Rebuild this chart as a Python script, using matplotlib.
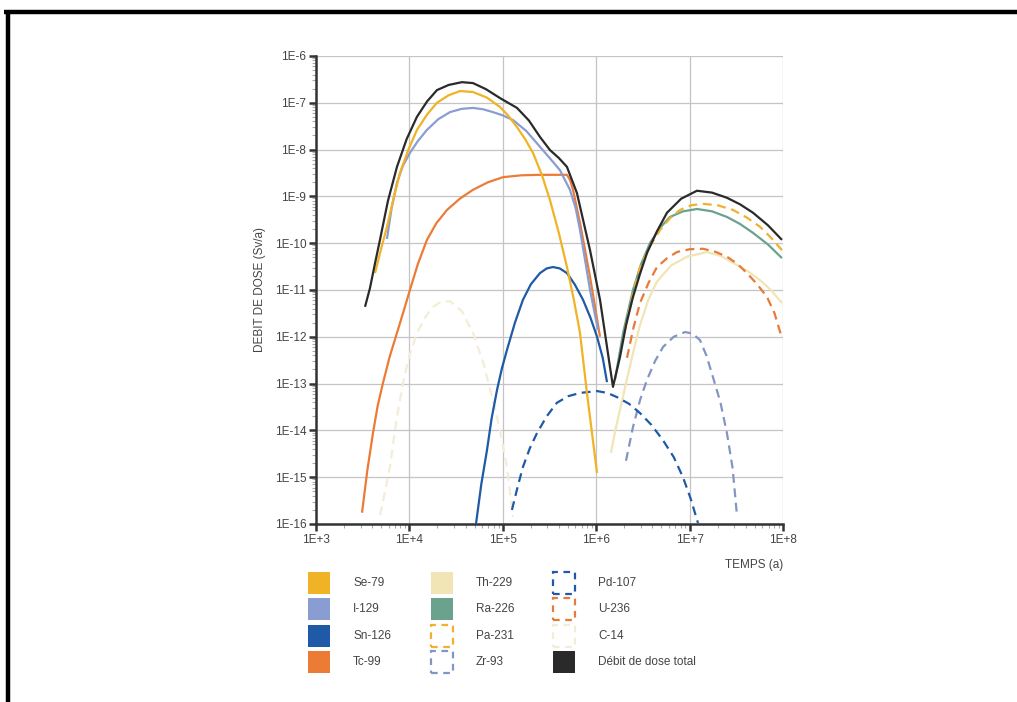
import matplotlib
matplotlib.use("Agg")
import matplotlib.pyplot as plt
from matplotlib.patches import Rectangle
from matplotlib.lines import Line2D
from matplotlib.ticker import LogLocator, NullFormatter, FixedLocator

plt.rcParams["font.family"] = ["Liberation Sans", "DejaVu Sans"]

# courbes : log10(temps en années), log10(débit de dose en Sv/a)
se79_x = [3.632, 3.70, 3.760, 3.83, 3.899, 3.99, 4.081, 4.19, 4.295, 4.42, 4.542, 4.681, 4.83, 4.970,
          5.06, 5.152, 5.24, 5.323, 5.42, 5.505, 5.60, 5.687, 5.76, 5.827, 5.901, 6.009]
se79_y = [-10.64, -10.10, -9.65, -9.05, -8.50, -8.00, -7.58, -7.25, -7.00, -6.84, -6.75, -6.77, -6.89, -7.09,
          -7.28, -7.52, -7.78, -8.07, -8.55, -9.08, -9.78, -10.51, -11.20, -11.92, -13.20, -14.91]

i129_x = [3.760, 3.81, 3.867, 3.93, 4.006, 4.09, 4.188, 4.31, 4.435, 4.56, 4.681, 4.79, 4.895, 5.00,
          5.109, 5.25, 5.398, 5.51, 5.612, 5.719, 5.78, 5.827, 5.88, 5.934, 6.019]
i129_y = [-9.91, -9.25, -8.71, -8.35, -8.07, -7.82, -7.58, -7.35, -7.20, -7.13, -7.11, -7.14, -7.20, -7.27,
          -7.37, -7.60, -7.94, -8.20, -8.44, -8.86, -9.25, -9.72, -10.35, -11.00, -11.85]

sn126_x = [4.713, 4.77, 4.831, 4.88, 4.938, 4.99, 5.045, 5.13, 5.216, 5.30, 5.398, 5.47, 5.537, 5.61,
           5.687, 5.77, 5.859, 5.94, 6.009, 6.07, 6.116]
sn126_y = [-16.0, -15.15, -14.42, -13.75, -13.14, -12.68, -12.28, -11.70, -11.21, -10.88, -10.64, -10.54, -10.51, -10.54,
           -10.64, -10.88, -11.21, -11.60, -12.00, -12.45, -12.97]

tc99_x = [3.493, 3.55, 3.610, 3.66, 3.717, 3.79, 3.867, 3.94, 4.006, 4.09, 4.188, 4.29, 4.403, 4.54,
          4.681, 4.84, 5.002, 5.20, 5.398, 5.687, 5.72, 5.752, 5.827, 5.934, 6.041]
tc99_y = [-15.76, -14.85, -14.06, -13.48, -12.99, -12.42, -11.92, -11.44, -11.00, -10.45, -9.93, -9.57, -9.29, -9.05,
          -8.86, -8.70, -8.59, -8.55, -8.54, -8.54, -8.65, -8.86, -9.57, -10.72, -12.00]

th229_x = [6.158, 6.21, 6.255, 6.33, 6.40, 6.469, 6.56, 6.651, 6.80, 6.972, 7.186, 7.33, 7.465, 7.61,
           7.754, 7.87, 7.989]
th229_y = [-14.48, -13.95, -13.56, -12.90, -12.30, -11.75, -11.20, -10.82, -10.48, -10.29, -10.19, -10.27, -10.42, -10.58,
           -10.79, -11.00, -11.28]

ra226_x = [6.201, 6.29, 6.394, 6.48, 6.576, 6.68, 6.790, 6.93, 7.079, 7.24, 7.400, 7.54, 7.679, 7.84, 7.989]
ra226_y = [-12.92, -11.90, -11.00, -10.45, -10.00, -9.68, -9.44, -9.32, -9.27, -9.32, -9.44, -9.59, -9.78, -10.03, -10.32]

pa231_x = [6.308, 6.39, 6.469, 6.58, 6.683, 6.79, 6.897, 7.02, 7.143, 7.30, 7.465, 7.61, 7.754, 7.87, 7.989]
pa231_y = [-11.85, -11.10, -10.51, -10.05, -9.72, -9.47, -9.29, -9.19, -9.16, -9.19, -9.29, -9.45, -9.65, -9.88, -10.15]

zr93_x = [6.319, 6.394, 6.47, 6.544, 6.63, 6.715, 6.83, 6.951, 7.03, 7.111, 7.18, 7.250, 7.33, 7.400, 7.46, 7.507]
zr93_y = [-14.65, -13.93, -13.35, -12.92, -12.52, -12.22, -12.00, -11.90, -11.93, -12.07, -12.40, -12.86, -13.40, -14.06,
          -14.80, -15.81]

pd107_x = [5.098, 5.16, 5.216, 5.29, 5.366, 5.47, 5.580, 5.70, 5.827, 6.009, 6.12, 6.223, 6.35, 6.469,
           6.59, 6.715, 6.83, 6.929, 7.01, 7.090]
pd107_y = [-15.70, -15.20, -14.78, -14.38, -14.06, -13.70, -13.41, -13.27, -13.20, -13.16, -13.20, -13.29, -13.43, -13.63,
           -13.88, -14.21, -14.57, -15.00, -15.45, -15.98]

u236_x = [6.330, 6.40, 6.469, 6.56, 6.651, 6.76, 6.865, 7.00, 7.143, 7.27, 7.400, 7.51, 7.614, 7.72, 7.829, 7.91, 7.989]
u236_y = [-12.45, -11.80, -11.28, -10.85, -10.51, -10.32, -10.19, -10.13, -10.12, -10.18, -10.29, -10.44, -10.64, -10.87,
          -11.15, -11.50, -12.03]

c14_x = [3.685, 3.74, 3.792, 3.86, 3.931, 4.00, 4.081, 4.17, 4.253, 4.34, 4.435, 4.56, 4.681, 4.79,
         4.895, 4.97, 5.045, 5.109]
c14_y = [-15.81, -15.30, -14.78, -13.80, -12.99, -12.40, -11.92, -11.58, -11.36, -11.25, -11.24, -11.45, -11.92, -12.55,
         -13.35, -14.00, -14.78, -15.85]

total_x = [3.525, 3.578, 3.63, 3.685, 3.77, 3.867, 3.97, 4.081, 4.19, 4.295, 4.42, 4.563, 4.681, 4.82,
           4.970, 5.152, 5.28, 5.398, 5.505, 5.60, 5.687, 5.794, 5.934, 6.041, 6.148, 6.180, 6.255, 6.32,
           6.394, 6.47, 6.544, 6.65, 6.758, 6.91, 7.079, 7.24, 7.400, 7.54, 7.679, 7.84, 7.989]
total_y = [-11.36, -10.96, -10.45, -9.93, -9.10, -8.37, -7.78, -7.30, -6.97, -6.73, -6.62, -6.56, -6.58, -6.71,
           -6.90, -7.11, -7.38, -7.73, -8.01, -8.18, -8.37, -8.93, -10.15, -11.21, -12.65, -13.07, -12.43, -11.75,
           -11.15, -10.65, -10.21, -9.75, -9.35, -9.05, -8.88, -8.92, -9.03, -9.17, -9.35, -9.62, -9.93]

x_ticks = [1e3, 1e4, 1e5, 1e6, 1e7, 1e8]
x_labels = ["1E+3", "1E+4", "1E+5", "1E+6", "1E+7", "1E+8"]
y_ticks = [10.0 ** e for e in range(-16, -5)]
y_labels = ["1E%d" % e for e in range(-16, -5)]

C_SE = "#f0b325"
C_I = "#8a9dd2"
C_SN = "#1f5aa6"
C_TC = "#ec7b36"
C_TH = "#f1e5b5"
C_RA = "#6aa28e"
C_PA = "#efb22e"
C_ZR = "#8296c3"
C_PD = "#1f5aa6"
C_U = "#e67b3b"
C_C14 = "#f4edd6"
C_TOT = "#2a2a2a"

# (nom, x, y, couleur, pointillé)
series = [
    ("Se-79", se79_x, se79_y, C_SE, False),
    ("I-129", i129_x, i129_y, C_I, False),
    ("Sn-126", sn126_x, sn126_y, C_SN, False),
    ("Tc-99", tc99_x, tc99_y, C_TC, False),
    ("Th-229", th229_x, th229_y, C_TH, False),
    ("Ra-226", ra226_x, ra226_y, C_RA, False),
    ("Pa-231", pa231_x, pa231_y, C_PA, True),
    ("Zr-93", zr93_x, zr93_y, C_ZR, True),
    ("Pd-107", pd107_x, pd107_y, C_PD, True),
    ("U-236", u236_x, u236_y, C_U, True),
    ("C-14", c14_x, c14_y, C_C14, True),
    ("Débit de dose total", total_x, total_y, C_TOT, False),
]

fig = plt.figure(figsize=(10.17, 7.02), dpi=100)
ax = fig.add_axes([0.3107, 0.2536, 0.4592, 0.6667])

draw_order = ["C-14", "Th-229", "Zr-93", "Pd-107", "Sn-126", "Tc-99", "I-129", "Se-79",
              "U-236", "Ra-226", "Pa-231", "Débit de dose total"]
by_name = {s[0]: s for s in series}
for name in draw_order:
    _, xs, ys, col, dashed = by_name[name]
    ax.plot([10.0 ** v for v in xs], [10.0 ** v for v in ys], color=col, lw=1.6,
            ls=(0, (4, 2.5)) if dashed else "-", solid_capstyle="butt",
            solid_joinstyle="round", zorder=3)

ax.set_xscale("log")
ax.set_yscale("log")
ax.set_xlim(1e3, 1e8)
ax.set_ylim(1e-16, 1e-6)
ax.xaxis.set_major_locator(FixedLocator(x_ticks))
ax.set_xticklabels(x_labels)
ax.yaxis.set_major_locator(FixedLocator(y_ticks))
ax.set_yticklabels(y_labels)
ax.xaxis.set_minor_locator(LogLocator(base=10, subs=range(2, 10), numticks=20))
ax.yaxis.set_minor_locator(LogLocator(base=10, subs=range(2, 10), numticks=30))
ax.xaxis.set_minor_formatter(NullFormatter())
ax.yaxis.set_minor_formatter(NullFormatter())

ax.grid(True, which="major", color="#c4c4c4", lw=0.9, zorder=0)
ax.set_axisbelow(True)
for side in ("top", "right"):
    ax.spines[side].set_visible(False)
for side in ("left", "bottom"):
    ax.spines[side].set_color("#333333")
    ax.spines[side].set_linewidth(1.8)
ax.tick_params(which="major", length=5, width=1.8, color="#333333",
               labelsize=8.5, labelcolor="#444444", pad=2)
ax.tick_params(which="minor", length=3, width=0.8, color="#aaaaaa")

ax.set_ylabel("DEBIT DE DOSE (Sv/a)", fontsize=8.5, color="#444444", labelpad=6)
fig.text(0.770, 0.195, "TEMPS (a)", ha="right", va="center", fontsize=8.5, color="#444444")

# légende en trois colonnes, carrés pleins ou pointillés
col_x = [308, 431, 553]
text_dx = 45
row_y = [583, 609, 636, 662]
sq = 22
W, H = 1017.0, 702.0
for i, (name, _, _, col, dashed) in enumerate(series):
    c, r = divmod(i, 4)
    x0 = col_x[c]
    y0 = row_y[r] - sq / 2
    if dashed:
        rect = Rectangle((x0 / W, 1 - (y0 + sq) / H), sq / W, sq / H, transform=fig.transFigure,
                         facecolor="white", edgecolor=col, lw=1.6, ls=(0, (3, 2.5)))
    else:
        rect = Rectangle((x0 / W, 1 - (y0 + sq) / H), sq / W, sq / H, transform=fig.transFigure,
                         facecolor=col, edgecolor="none")
    fig.add_artist(rect)
    fig.text((x0 + text_dx) / W, 1 - row_y[r] / H, name, ha="left", va="center",
             fontsize=8.5, color="#444444")

# cadre noir en haut et à gauche
fig.add_artist(Line2D([4 / W, 1.0], [1 - 12 / H, 1 - 12 / H], transform=fig.transFigure,
                      color="black", lw=3.2, solid_capstyle="butt"))
fig.add_artist(Line2D([8 / W, 8 / W], [1 - 10 / H, 0.0], transform=fig.transFigure,
                      color="black", lw=3.2, solid_capstyle="butt"))

fig.savefig("out.png", dpi=100, facecolor="white")
